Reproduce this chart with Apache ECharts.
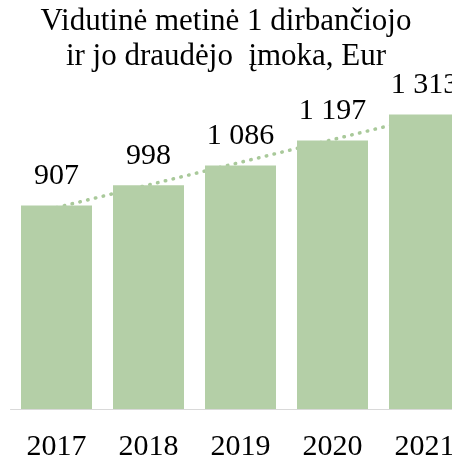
<!DOCTYPE html>
<html>
<head>
<meta charset="utf-8">
<script src="https://cdn.jsdelivr.net/npm/echarts@6/dist/echarts.min.js"></script>
<style>
html,body{margin:0;padding:0;background:#fff;}
#chart{width:452px;height:461px;}
</style>
</head>
<body>
<div id="chart"></div>
<script>
const years = ['2017', '2018', '2019', '2020', '2021'];
const values = [907, 998, 1086, 1197, 1313];
const trend = [898, 999, 1100, 1201, 1302];
const titleText = 'Vidutinė metinė 1 dirbančiojo\nir jo draudėjo  įmoka, Eur';

function fmt(v) {
  return String(v).replace(/\B(?=(\d{3})+(?!\d))/g, ' ');
}

const chart = echarts.init(document.getElementById('chart'), null, {renderer: 'canvas'});
const serif = 'Liberation Serif';
chart.setOption({
  animation: false,
  backgroundColor: '#ffffff',
  title: {
    text: titleText,
    left: 'center',
    top: 4,
    padding: [0, 0, 0, 8],
    textStyle: {
      fontFamily: serif,
      fontSize: 31,
      fontWeight: 'normal',
      color: '#000',
      lineHeight: 35
    }
  },
  grid: {left: 10.5, right: -18.5, top: 95, bottom: 52, outerBoundsMode: 'none', containLabel: false},
  xAxis: {
    type: 'category',
    data: years,
    axisTick: {show: false},
    axisLine: {lineStyle: {color: '#d9d9d9', width: 1}},
    axisLabel: {
      fontFamily: serif,
      fontSize: 30,
      lineHeight: 30,
      color: '#000',
      margin: 23,
      interval: 0,
      hideOverlap: false
    }
  },
  yAxis: {
    type: 'value',
    min: 0,
    max: 1400,
    show: false,
    splitLine: {show: false}
  },
  series: [
    {
      type: 'line',
      data: trend,
      z: 1,
      symbol: 'none',
      silent: true,
      lineStyle: {color: '#a9c99a', width: 3.5, type: [0.5, 7.5], cap: 'round'}
    },
    {
      type: 'bar',
      data: values,
      z: 2,
      barWidth: 71,
      itemStyle: {color: '#b4cfa7'},
      label: {
        show: true,
        position: 'top',
        distance: 14,
        fontFamily: serif,
        fontSize: 30,
        lineHeight: 30,
        color: '#000',
        formatter: p => fmt(p.value)
      }
    }
  ]
});
</script>
</body>
</html>
